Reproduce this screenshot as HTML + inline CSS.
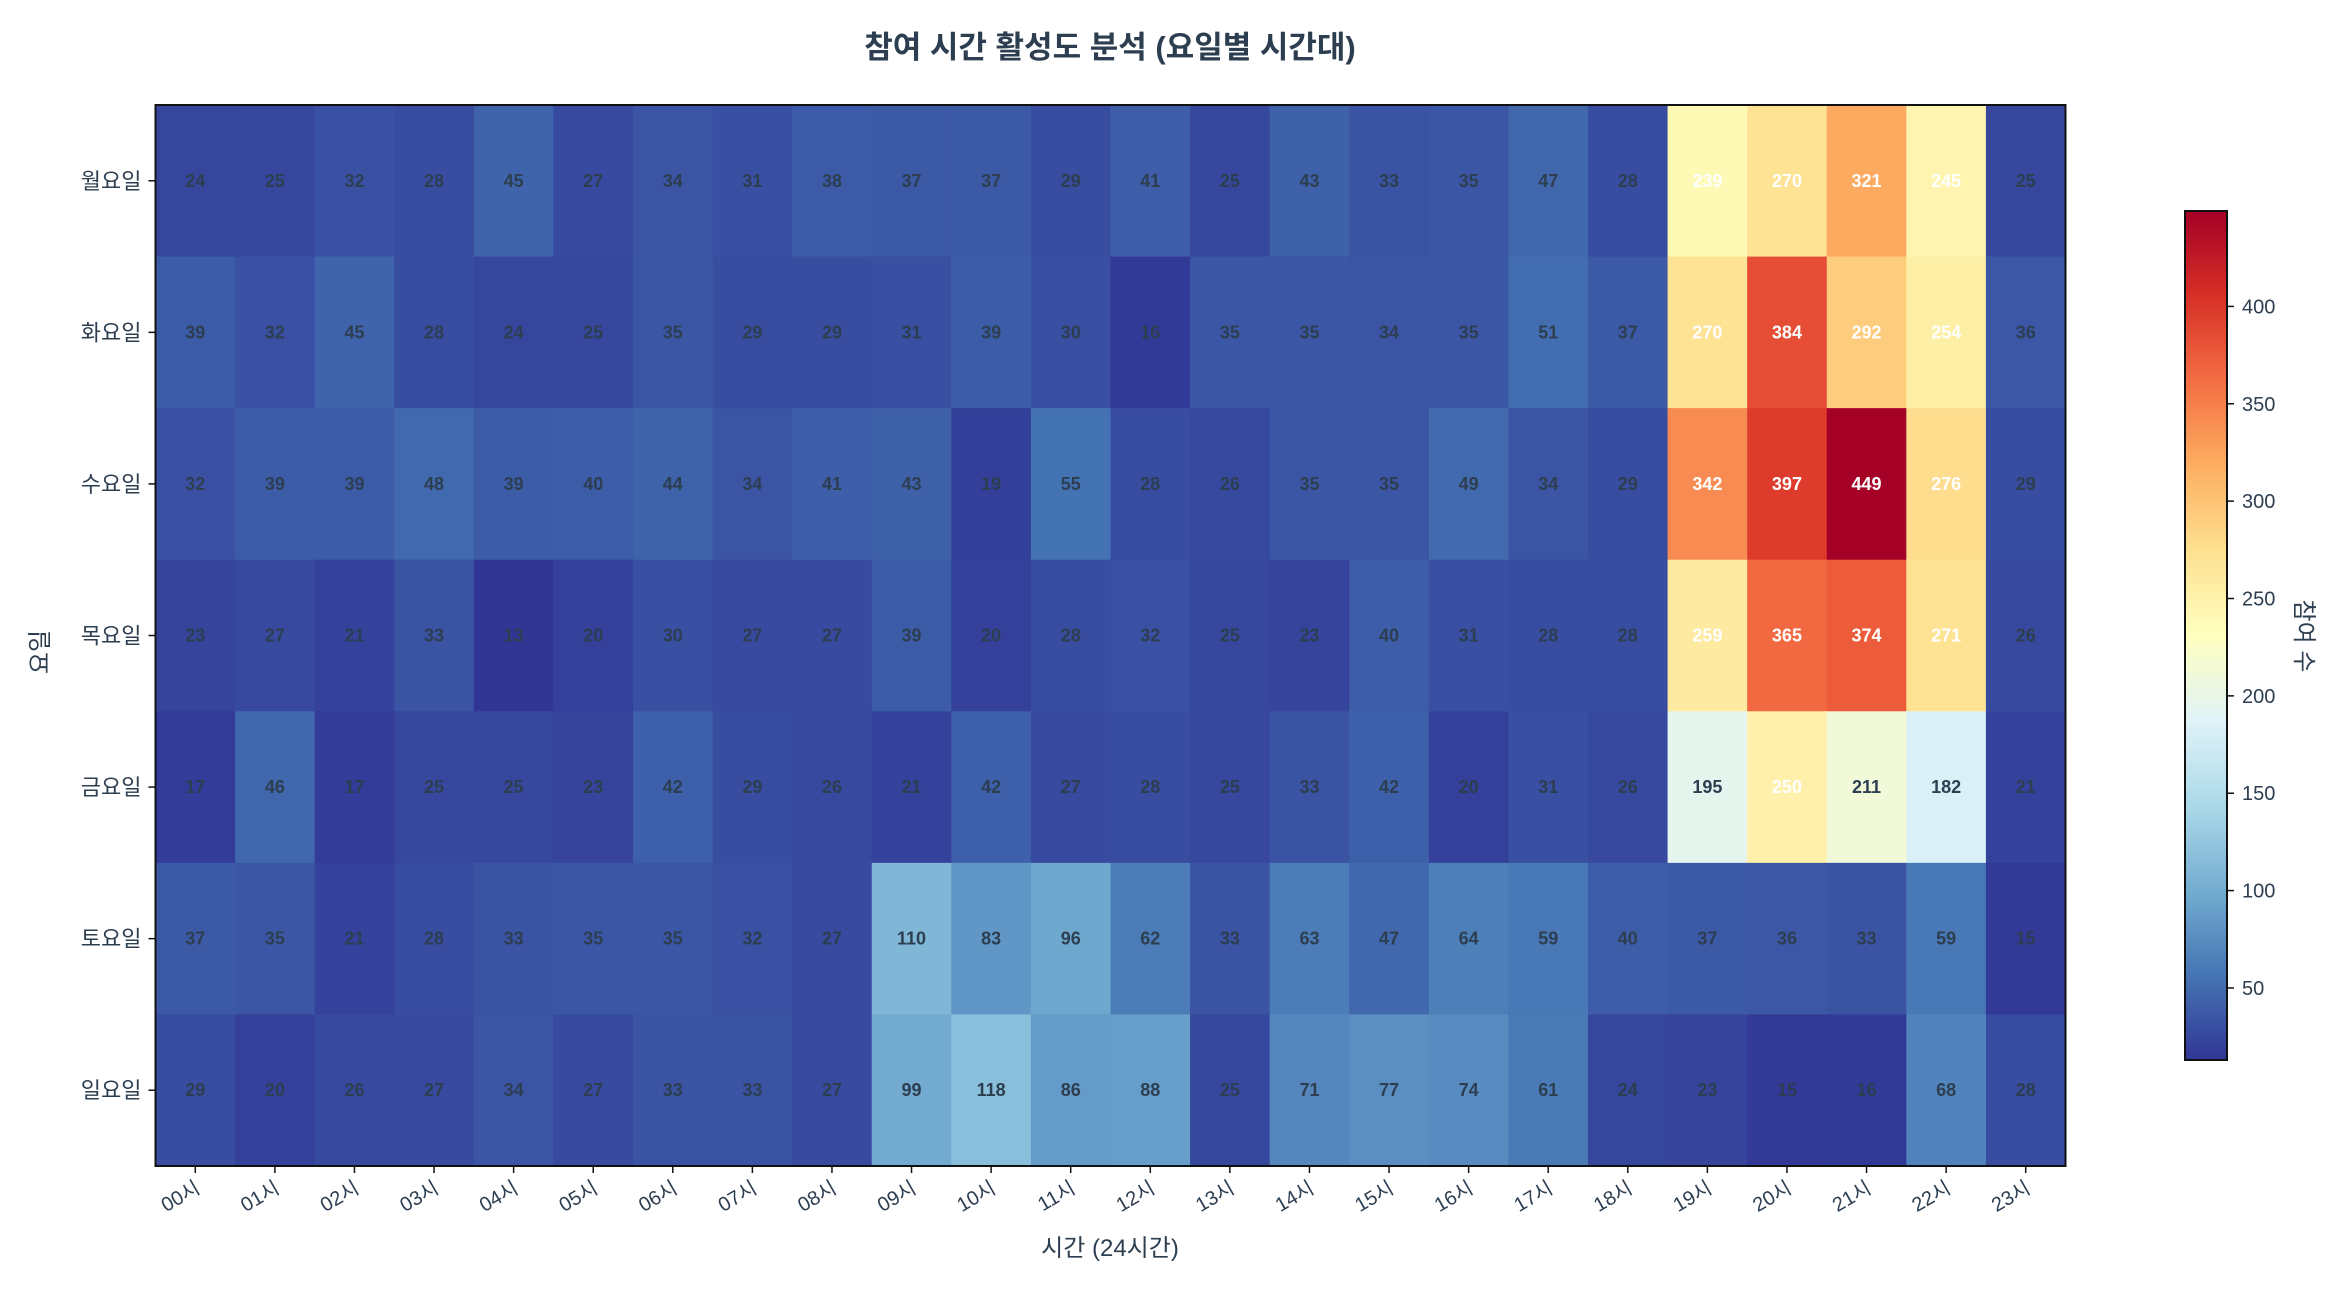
<!DOCTYPE html>
<html><head><meta charset="utf-8"><style>
html,body{margin:0;padding:0;background:#fff;}
svg{display:block;font-family:"Liberation Sans","Noto Sans CJK KR",sans-serif;}
</style></head><body>
<svg id="chart" width="2347" height="1294" viewBox="0 0 2347 1294" xmlns="http://www.w3.org/2000/svg">
<rect width="2347" height="1294" fill="#fff"/>
<text x="1110" y="58" text-anchor="middle" font-size="31" font-weight="bold" fill="#2c3e50">참여 시간 활성도 분석 (요일별 시간대)</text>
<g id="cells"></g>
<rect x="155.5" y="105" width="1910" height="1061" fill="none" stroke="#111" stroke-width="2"/>
<g id="axes"></g>
<text x="1110" y="1256" text-anchor="middle" font-size="24" fill="#2c3e50">시간 (24시간)</text>
<text transform="translate(48,652) rotate(-90)" text-anchor="middle" font-size="24" fill="#2c3e50">요일</text>
<defs><linearGradient id="cbg" x1="0" y1="1" x2="0" y2="0"></linearGradient></defs>
<rect x="2185" y="211" width="42" height="849" fill="url(#cbg)" stroke="#111" stroke-width="2"/>
<g id="cbticks"></g>
<text transform="translate(2296,636) rotate(90)" text-anchor="middle" font-size="24" fill="#2c3e50">참여 수</text>
</svg>
<script>
const days = ["월요일","화요일","수요일","목요일","금요일","토요일","일요일"];
const hours = ["00시","01시","02시","03시","04시","05시","06시","07시","08시","09시","10시","11시","12시","13시","14시","15시","16시","17시","18시","19시","20시","21시","22시","23시"];
const monVals = [24,25,32,28,45,27,34,31,38,37,37,29,41,25,43,33,35,47,28,239,270,321,245,25];
const tueVals = [39,32,45,28,24,25,35,29,29,31,39,30,16,35,35,34,35,51,37,270,384,292,254,36];
const wedVals = [32,39,39,48,39,40,44,34,41,43,19,55,28,26,35,35,49,34,29,342,397,449,276,29];
const thuVals = [23,27,21,33,13,20,30,27,27,39,20,28,32,25,23,40,31,28,28,259,365,374,271,26];
const friVals = [17,46,17,25,25,23,42,29,26,21,42,27,28,25,33,42,20,31,26,195,250,211,182,21];
const satVals = [37,35,21,28,33,35,35,32,27,110,83,96,62,33,63,47,64,59,40,37,36,33,59,15];
const sunVals = [29,20,26,27,34,27,33,33,27,99,118,86,88,25,71,77,74,61,24,23,15,16,68,28];
const cbTicks = [50,100,150,200,250,300,350,400];

const values = [monVals,tueVals,wedVals,thuVals,friVals,satVals,sunVals];
const NS = "http://www.w3.org/2000/svg";
const all = values.flat();
const vmin = Math.min(...all), vmax = Math.max(...all);
const X0 = 155.5, X1 = 2065.5, Y0 = 105, Y1 = 1166;
const cw = (X1 - X0) / hours.length, ch = (Y1 - Y0) / days.length;
const xPos = i => X0 + i * cw;
const yPos = j => Y0 + j * ch;
const stops = ["#313695","#4575b4","#74add1","#abd9e9","#e0f3f8","#ffffbf","#fee090","#fdae61","#f46d43","#d73027","#a50026"];
function hex(h){return [1,3,5].map(k=>parseInt(h.substr(k,2),16));}
function cmap(v){
  let t = (v - vmin) / (vmax - vmin); t = Math.max(0, Math.min(1, t));
  const p = t * (stops.length - 1), i = Math.min(Math.floor(p), stops.length - 2), f = p - i;
  const a = hex(stops[i]), b = hex(stops[i+1]);
  return "rgb(" + a.map((c,k)=>Math.round(c + (b[k]-c)*f)).join(",") + ")";
}
function mk(tag, attrs, parent){const e=document.createElementNS(NS,tag);for(const k in attrs)e.setAttribute(k,attrs[k]);parent.appendChild(e);return e;}
const cells = document.getElementById("cells");
values.forEach((row,j)=>{
  row.forEach((v,i)=>{
    const r = mk("rect",{x:xPos(i),y:yPos(j),width:cw+0.5,height:ch+0.5,fill:cmap(v)},cells);
    
    
    const t = mk("text",{x:xPos(i)+cw/2,y:yPos(j)+ch/2+6,"text-anchor":"middle","font-size":18,"font-weight":"bold",fill:v>225?"#fff":"#2c3e50"},cells);
    
    
    t.textContent = v;
  });
});
const axes = document.getElementById("axes");
days.forEach((d,j)=>{
  const y = yPos(j)+ch/2;
  mk("line",{x1:X0-7,x2:X0,y1:y,y2:y,stroke:"#111","stroke-width":1.5},axes);
  const t = mk("text",{x:X0-14,y:y+8,"text-anchor":"end","font-size":22,fill:"#2c3e50"},axes);
  
  
  t.textContent = d;
});
hours.forEach((h,i)=>{
  const x = xPos(i)+cw/2;
  mk("line",{x1:x,x2:x,y1:Y1,y2:Y1+7,stroke:"#111","stroke-width":1.5},axes);
  const t = mk("text",{transform:"translate("+(x+6)+","+(Y1+26)+") rotate(-30)","text-anchor":"end","font-size":20,fill:"#2c3e50"},axes);
  
  
  t.textContent = h;
});
const g = document.getElementById("cbg");
stops.forEach((s,k)=>{mk("stop",{offset:(k/(stops.length-1)),"stop-color":s},g);});
const CB0 = 211, CB1 = 1060;
const cbY = v => CB1 - (v - vmin) / (vmax - vmin) * (CB1 - CB0);
const cbg = document.getElementById("cbticks");
cbTicks.forEach(v=>{
  const y = cbY(v);
  mk("line",{x1:2227,x2:2234,y1:y,y2:y,stroke:"#111","stroke-width":1.5},cbg);
  const t = mk("text",{x:2242,y:y+7,"font-size":20,fill:"#2c3e50"},cbg);
  
  
  t.textContent = v;
});
</script>
</body></html>
